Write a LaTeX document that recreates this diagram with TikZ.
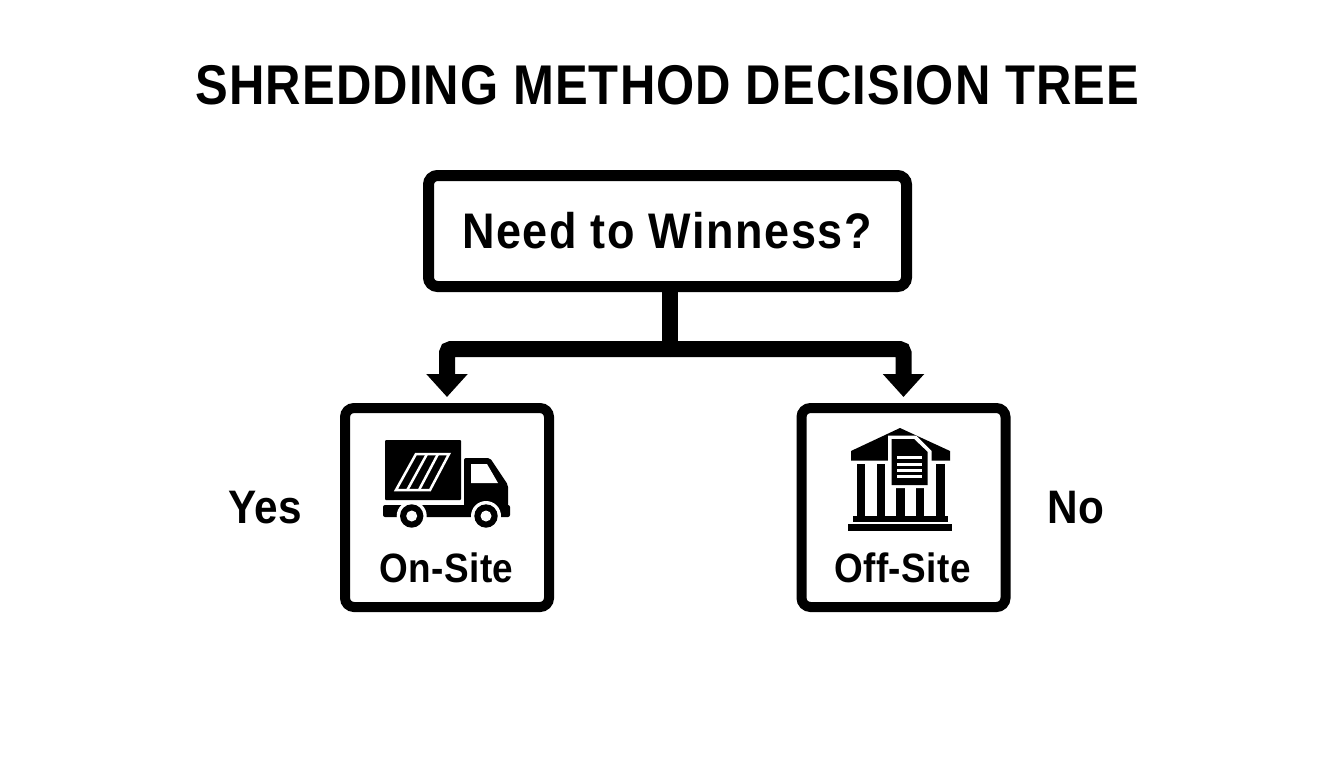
\documentclass[tikz,border=0pt]{standalone}
\usepackage{fontspec}
\setmainfont{Liberation Sans}
\usetikzlibrary{arrows.meta}
\newfontfamily\titlefont[LetterSpace=2,FakeStretch=0.875]{Liberation Sans}
\newfontfamily\needfont[LetterSpace=3,FakeStretch=0.9]{Liberation Sans}
\newfontfamily\labelfont[LetterSpace=1,FakeStretch=0.9]{Liberation Sans}

\begin{document}
\begin{tikzpicture}[x=1pt,y=-1pt]
        % Setup the styles
        \tikzset{box style/.style={draw=black,
                                   rounded corners=9pt,
                                   fill=white,
                                   inner sep=0pt},
                 word style/.style={font=\labelfont\bfseries\fontsize{#1}{#1}\selectfont,
                                    inner sep=0pt,
                                    text=black},
                 fork style/.style={draw=black,
                                    line width=16pt,
                                    rounded corners=4pt,
                                    shorten >=6pt,
                                    -{Triangle[length=23pt,width=40pt]}}}
        \useasboundingbox (0,0) rectangle (1344,768);

        % Draw the title and the boxes
        \node[inner sep=0pt,font=\titlefont\bfseries\fontsize{56}{56}\selectfont] at (667.5,85) (title) {SHREDDING METHOD DECISION TREE};
        \node[box style,line width=11pt,minimum width=478pt,minimum height=111pt] at (667.5,231) (need) {};
        \node[box style,line width=10pt,minimum width=204pt,minimum height=199pt] at (447,507.5) (onsite) {};
        \node[box style,line width=10pt,minimum width=204pt,minimum height=199pt] at (903.5,507.5) (offsite) {};
        \node[inner sep=0pt,font=\needfont\bfseries\fontsize{50}{50}\selectfont] at (667,231) (needtext) {Need to Winness?};
        \node[word style=41] at (446.5,568) (onsitetext) {On-Site};
        \node[word style=41] at (902.5,568) (offsitetext) {Off-Site};
        \node[word style=47] at (265.5,507.5) (yes) {Yes};
        \node[word style=47] at (1075.5,508) (no) {No};

        % Connect the boxes
        \coordinate (fork) at (670,349);
        \draw[fork style] (fork) -| (onsite.north);
        \draw[fork style] (fork) -| (offsite.north);
        \draw[draw=black,line width=16pt] (fork |- need.south) -- (fork);

        % The truck
        \fill[rounded corners=1pt] (385,440) rectangle (461,500);
        \fill[rounded corners=2pt] (464,458) -- (490,458) -- (508,485) -- (508,510) -- (464,510) -- cycle;
        \fill[rounded corners=2pt] (383,505) rectangle (510,517);
        \fill[white] (471,464) -- (487,464) -- (498,483) -- (471,483) -- cycle;
        \draw[white,line width=2.5pt,line join=miter] (396,490) -- (416,454) -- (449,454) -- (430,490) -- cycle;
        \draw[white,line width=2.5pt] (407.3,490) -- (427,454);
        \draw[white,line width=2.5pt] (419,490) -- (438,454);
        \foreach \cx in {411.7,486} {
            \fill[white] (\cx,516) circle (15pt);
            \fill[black] (\cx,516) circle (11.7pt);
            \fill[white] (\cx,516) circle (5.5pt);
        }

        % The building
        \fill (851,451) -- (900,428) -- (950,451) -- (950,460.7) -- (851,460.7) -- cycle;
        \foreach \cx in {856.7,876.7,896.3,915.8,936} {
            \fill (\cx,464.3) rectangle +(8.5,52);
        }
        \fill (853.3,515.7) rectangle (947.7,521.7);
        \fill (848.3,524.3) rectangle (952.3,531);
        \fill[white] (888,435.5) -- (916,435.5) -- (931.7,451) -- (931.7,488) -- (888,488) -- cycle;
        \fill (891.7,439) -- (914,439) -- (927.7,452) -- (927.7,485) -- (891.7,485) -- cycle;
        \foreach \ly in {457,464,470.7,476.7} {
            \fill[white] (896.7,\ly-1.5) rectangle (922.3,\ly+1.5);
        }
\end{tikzpicture}
\end{document}
